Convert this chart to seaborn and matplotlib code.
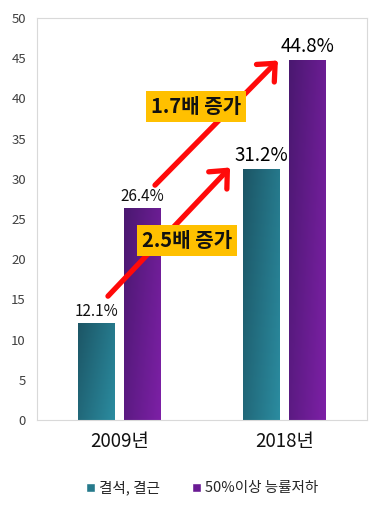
import numpy as np
import pandas as pd
import matplotlib
matplotlib.use('Agg')
import matplotlib.pyplot as plt
from matplotlib.colors import LinearSegmentedColormap
from matplotlib.patches import Rectangle
import seaborn as sns

years = ['2009년', '2018년']
series = ['결석, 결근', '50%이상 능률저하']
absence = [12.1, 31.2]
decline = [26.4, 44.8]
y_ticks = [0, 5, 10, 15, 20, 25, 30, 35, 40, 45, 50]

# increase callouts: text, box centre, arrow start, arrow end (data coords)
callouts = [
    ('2.5배 증가', (0.41, 22.3), (-0.07, 15.4), (0.67, 31.4)),
    ('1.7배 증가', (0.465, 39.0), (0.215, 29.2), (0.96, 44.7)),
]

teal = ['#1c5565', '#2b8ca0']
purple = ['#4a1870', '#7d20a6']

df = pd.DataFrame({
    'year': years * 2,
    'series': [series[0]] * 2 + [series[1]] * 2,
    'value': absence + decline,
})

sns.set_style('white')
plt.rcParams['font.family'] = ['Noto Sans CJK KR', 'DejaVu Sans']

fig = plt.figure(figsize=(3.75, 5.11), dpi=100)
ax = fig.add_axes([0.0987, 0.178, 0.88, 0.787])

sns.barplot(data=df, x='year', y='value', hue='series',
            palette=[teal[1], purple[1]], width=0.56, gap=0.2,
            ax=ax, legend=False, saturation=1)

# gradient fill clipped to every bar
gx, gy = np.meshgrid(np.linspace(0, 1, 60), np.linspace(0, 1, 60))
grad = 0.65 * gx + 0.35 * (1 - gy)
for cont, cols in zip(ax.containers, [teal, purple]):
    cmap = LinearSegmentedColormap.from_list('g', cols)
    for bar in cont:
        x0, y0 = bar.get_x(), bar.get_y()
        w, h = bar.get_width(), bar.get_height()
        im = ax.imshow(grad, extent=[x0, x0 + w, y0, y0 + h], origin='lower',
                       aspect='auto', cmap=cmap, zorder=bar.get_zorder() + 0.1)
        im.set_clip_path(bar)

# value labels
for cont in ax.containers:
    texts = ax.bar_label(cont, labels=[f'{v:.1f}%' for v in cont.datavalues],
                         padding=2, fontsize=11, color='#111111')
    texts[1].set_fontsize(13.5)
    texts[1].set_fontweight('medium')
    texts[1].set_color('black')

# arrows and callout boxes
for txt, (bx, by), start, end in callouts:
    ax.annotate('', xy=end, xytext=start,
                arrowprops=dict(arrowstyle='->,head_length=0.5,head_width=0.45',
                                color='#ff0a0a', lw=3.8, mutation_scale=20,
                                shrinkA=0, shrinkB=0), zorder=5)
    ax.text(bx, by, txt, ha='center', va='center', fontsize=14.5,
            fontweight='bold', color='#111111', zorder=6,
            bbox=dict(boxstyle='square,pad=0.25', fc='#ffc000', ec='none'))

ax.set_xlim(-0.5, 1.5)
ax.set_ylim(0, 50)
ax.set_yticks(y_ticks)
ax.set_xlabel('')
ax.set_ylabel('')
ax.tick_params(axis='y', length=0, pad=8, labelsize=9.5, labelcolor='#404040')
ax.tick_params(axis='x', length=0, pad=8, labelsize=13.5, labelcolor='#111111')
for s in ax.spines.values():
    s.set_color('#d9d9d9')
    s.set_linewidth(0.8)

handles = [Rectangle((0, 0), 1, 1, fc='#267a8c'), Rectangle((0, 0), 1, 1, fc='#6a1b94')]
ax.legend(handles, series, loc='center', bbox_to_anchor=(0.5, -0.169), ncol=2,
          frameon=False, fontsize=10.5, handlelength=0.6, handleheight=0.6,
          handletextpad=0.3, columnspacing=2.2)

fig.savefig('out.png', dpi=100)
